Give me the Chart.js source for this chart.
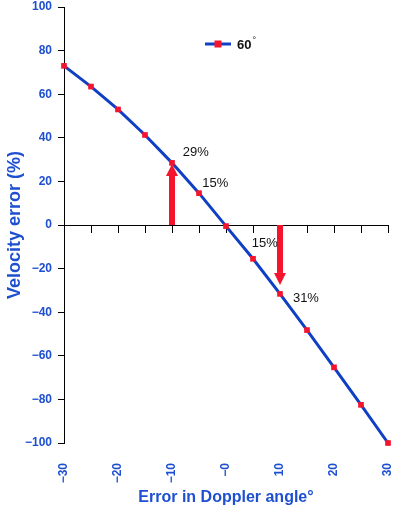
<!DOCTYPE html>
<html>
<head>
<meta charset="utf-8">
<script src="https://cdn.jsdelivr.net/npm/chart.js@4/dist/chart.umd.min.js"></script>
<style>
  html, body { margin: 0; padding: 0; background: #fff; }
  #wrap { width: 393px; height: 510px; }
</style>
</head>
<body>
<div id="wrap"><canvas id="chart" width="393" height="510"></canvas></div>
<script>
// doppler angle error (deg) vs velocity error (%) at 60 deg insonation
var angleErr = [-30, -25, -20, -15, -10, -5, 0, 5, 10, 15, 20, 25, 30];
var velErr = [73, 63.5, 53, 41.3, 28.5, 14.6, -0.5, -15.5, -31.6, -48.2, -65.3, -82.5, -100];
var seriesName = '60';

var xTickLabels = ['\u221230', '\u221220', '\u221210', '\u22120', '10', '20', '30'];

// arrows + percent notes
var arrowX = [-10, 10];
var arrowTo = [28, -27.5];
var noteText = ['29%', '15%', '15%', '31%'];
var noteX = [-5.6, -2, 7.2, 14.8];
var noteY = [33.5, 19.3, -8.3, -33.5];

var BLUE = '#0f3fc4';
var LABEL_BLUE = '#1d4fd0';
var RED = '#f5142e';
var FONT = "'Liberation Sans', Arial, Helvetica, sans-serif";

var points = angleErr.map(function(a, i) { return {x: a, y: velErr[i]}; });

function noPad(s) {
    s.paddingLeft = 0; s.paddingRight = 0;
    s.paddingTop = 0; s.paddingBottom = 0;
}

var extras = {
    id: 'extras',
    beforeDatasetsDraw: function(chart) {
        var ctx = chart.ctx, xs = chart.scales.x, ys = chart.scales.y;
        ctx.save();
        ctx.fillStyle = RED;
        for (var i = 0; i < arrowX.length; i++) {
            var px = xs.getPixelForValue(arrowX[i]);
            var y0 = ys.getPixelForValue(0);
            var y1 = ys.getPixelForValue(arrowTo[i]);
            var dir = y1 < y0 ? 1 : -1;
            var head = 12;
            ctx.fillRect(px - 3, Math.min(y0, y1 + dir * head), 6, Math.abs(y0 - y1) - head);
            ctx.beginPath();
            ctx.moveTo(px - 6, y1 + dir * head);
            ctx.lineTo(px + 6, y1 + dir * head);
            ctx.lineTo(px, y1);
            ctx.closePath();
            ctx.fill();
        }
        ctx.restore();
    },
    afterDraw: function(chart) {
        var ctx = chart.ctx, xs = chart.scales.x, ys = chart.scales.y;
        ctx.save();
        ctx.fillStyle = '#111';
        ctx.font = '13px ' + FONT;
        ctx.textAlign = 'center';
        ctx.textBaseline = 'middle';
        for (var i = 0; i < noteText.length; i++) {
            ctx.fillText(noteText[i], xs.getPixelForValue(noteX[i]), ys.getPixelForValue(noteY[i]));
        }
        // legend
        var lx = 205, ly = 44;
        ctx.strokeStyle = BLUE;
        ctx.lineWidth = 3;
        ctx.beginPath();
        ctx.moveTo(lx, ly);
        ctx.lineTo(lx + 26, ly);
        ctx.stroke();
        ctx.fillStyle = RED;
        ctx.fillRect(lx + 13 - 3.5, ly - 3.5, 7, 7);
        ctx.fillStyle = '#111';
        ctx.textAlign = 'left';
        ctx.font = 'bold 13px ' + FONT;
        ctx.fillText(seriesName, lx + 32, ly + 1);
        var w = ctx.measureText(seriesName).width;
        ctx.font = '9px ' + FONT;
        ctx.fillText('\u00b0', lx + 33 + w, ly - 3);
        ctx.restore();
    }
};

new Chart(document.getElementById('chart'), {
    type: 'line',
    data: {
        datasets: [{
            label: seriesName,
            data: points,
            borderColor: BLUE,
            borderWidth: 3,
            pointStyle: 'rect',
            pointRadius: 4,
            pointBackgroundColor: RED,
            pointBorderColor: RED,
            pointBorderWidth: 0,
            tension: 0,
            clip: false,
            xAxisID: 'x',
            yAxisID: 'y'
        }]
    },
    options: {
        responsive: false,
        animation: false,
        layout: { padding: { top: 7, right: 5 } },
        plugins: { legend: { display: false }, tooltip: { enabled: false } },
        scales: {
            x: {
                type: 'linear',
                position: { y: 0 },
                min: -30,
                max: 30,
                ticks: { display: false, stepSize: 5 },
                grid: { drawOnChartArea: false, drawTicks: true, tickLength: 7, color: '#000', lineWidth: 1 },
                border: { color: '#000', width: 1 }
            },
            x2: {
                type: 'linear',
                position: 'bottom',
                min: -30,
                max: 30,
                afterFit: function(s) { s.height = 67; noPad(s); },
                ticks: {
                    stepSize: 10,
                    minRotation: 90,
                    maxRotation: 90,
                    padding: 12,
                    color: LABEL_BLUE,
                    font: { family: FONT, size: 12, weight: 'bold' },
                    callback: function(v, i) { return xTickLabels[i]; }
                },
                grid: { display: false },
                border: { display: false },
                title: {
                    display: true,
                    text: 'Error in Doppler angle\u00b0',
                    color: LABEL_BLUE,
                    font: { family: FONT, size: 16, weight: 'bold' },
                    padding: { top: 0, bottom: 3 }
                }
            },
            y: {
                min: -100,
                max: 100,
                afterFit: function(s) { s.width = 64; noPad(s); },
                ticks: {
                    stepSize: 20,
                    padding: 6,
                    color: LABEL_BLUE,
                    font: { family: FONT, size: 12, weight: 'bold' },
                    callback: function(v) { return v < 0 ? '\u2212' + Math.abs(v) : String(v); }
                },
                grid: { drawOnChartArea: false, drawTicks: true, tickLength: 6, color: '#000' },
                border: { color: '#000', width: 1 },
                title: {
                    display: true,
                    text: 'Velocity error (%)',
                    color: LABEL_BLUE,
                    font: { family: FONT, size: 18, weight: 'bold' },
                    padding: 4
                }
            }
        }
    },
    plugins: [extras]
});
</script>
</body>
</html>
